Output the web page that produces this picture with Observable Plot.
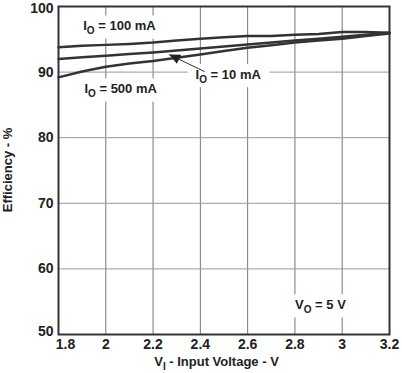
<!DOCTYPE html>
<html>
<head>
<meta charset="utf-8">
<script src="https://cdn.jsdelivr.net/npm/d3@7"></script>
<script src="https://cdn.jsdelivr.net/npm/@observablehq/plot@0.6"></script>
<style>
  html, body { margin: 0; padding: 0; background: #fff; }
  svg { font-family: "Liberation Sans", Arial, sans-serif; font-weight: bold; }
</style>
</head>
<body>
<div id="chart"></div>
<script>
// Input voltage (V)
const voltage = [1.8, 1.9, 2.0, 2.1, 2.2, 2.3, 2.4, 2.5, 2.6, 2.7, 2.8, 2.9, 3.0, 3.1, 3.2];
// Efficiency (%) per output current
const eff100mA = [93.8, 94.0, 94.15, 94.3, 94.5, 94.8, 95.1, 95.3, 95.5, 95.5, 95.7, 95.8, 96.1, 96.1, 96.0];
const eff10mA  = [92.0, 92.25, 92.5, 92.75, 93.0, 93.3, 93.6, 93.9, 94.2, 94.5, 94.8, 95.1, 95.4, 95.7, 96.0];
const eff500mA = [89.2, 90.1, 90.8, 91.3, 91.7, 92.2, 92.7, 93.2, 93.7, 94.1, 94.5, 94.8, 95.1, 95.5, 95.9];
const seriesNames = ["100 mA", "10 mA", "500 mA"];

const xTicks = [1.8, 2.0, 2.2, 2.4, 2.6, 2.8, 3.0, 3.2];
const xTickLabels = ["1.8", "2", "2.2", "2.4", "2.6", "2.8", "3", "3.2"];
const yTicks = [50, 60, 70, 80, 90, 100];

// Annotations
const annotations = [
  {main: "I", sub: "O", rest: " = 100 mA", x: 2.06, y: 96.8},
  {main: "I", sub: "O", rest: " = 500 mA", x: 2.065, y: 87.2},
  {main: "I", sub: "O", rest: " = 10 mA", x: 2.52, y: 89.4},
  {main: "V", sub: "O", rest: " = 5 V", x: 2.91, y: 54.3}
];
const arrowFrom = {x: 2.42, y: 90.0};
const arrowTo = {x: 2.27, y: 92.6};

const data = [];
voltage.forEach((v, i) => {
  data.push({v, e: eff100mA[i], s: seriesNames[0]});
  data.push({v, e: eff10mA[i], s: seriesNames[1]});
  data.push({v, e: eff500mA[i], s: seriesNames[2]});
});

const W = 402, H = 373;
const plot = Plot.plot({
  width: W,
  height: H,
  marginLeft: 58,
  marginRight: 13,
  marginTop: 6,
  marginBottom: 39,
  style: {fontFamily: "Liberation Sans, Arial, sans-serif", fontSize: "13px", fontWeight: "bold", color: "#222"},
  x: {domain: [1.8, 3.2], label: null},
  y: {domain: [50, 100], label: null},
  marks: [
    Plot.gridX(xTicks.slice(1, -1), {stroke: "#777", strokeOpacity: 1, strokeWidth: 1}),
    Plot.gridY(yTicks.slice(1, -1), {stroke: "#999", strokeOpacity: 1, strokeWidth: 1}),
    Plot.axisX(xTicks.slice(0, 1), {tickSize: 0, tickPadding: 5, tickFormat: (d) => xTickLabels[xTicks.indexOf(d)], dx: 7, fontSize: 14, fill: "#222"}),
    Plot.axisX(xTicks.slice(1), {tickSize: 0, tickPadding: 5, tickFormat: (d) => xTickLabels[xTicks.indexOf(d)], fontSize: 14, fill: "#222"}),
    Plot.axisY(yTicks.slice(-1), {tickSize: 0, tickPadding: 5, dy: 2, fontSize: 14, fill: "#222"}),
    Plot.axisY(yTicks.slice(1, -1), {tickSize: 0, tickPadding: 5, fontSize: 14, fill: "#222"}),
    Plot.axisY(yTicks.slice(0, 1), {tickSize: 0, tickPadding: 5, dy: -3, fontSize: 14, fill: "#222"}),
    Plot.line(data, {x: "v", y: "e", z: "s", stroke: "#333", strokeWidth: 2.5}),
    Plot.frame({stroke: "#333", strokeWidth: 2})
  ]
});
document.getElementById("chart").appendChild(plot);

const svg = d3.select(plot);
const xs = plot.scale("x"), ys = plot.scale("y");

// Annotation boxes + text
const g = svg.append("g");
annotations.forEach((a) => {
  const t = g.append("text")
    .attr("x", xs.apply(a.x)).attr("y", ys.apply(a.y))
    .attr("text-anchor", "middle").attr("dominant-baseline", "middle")
    .attr("font-size", 13).attr("fill", "#222");
  t.append("tspan").text(a.main);
  t.append("tspan").text(a.sub).attr("font-size", 10).attr("dy", 4);
  t.append("tspan").text(a.rest).attr("dy", -4);
  const bb = t.node().getBBox();
  g.insert("rect", () => t.node())
    .attr("x", bb.x - 8).attr("y", bb.y - 3).attr("width", bb.width + 16).attr("height", bb.height + 6)
    .attr("fill", "#fff");
});
svg.selectAll("g[aria-label='line'], g[aria-label='frame'], rect[aria-label='frame']").raise();

// Arrow for 10 mA
const ax1 = xs.apply(arrowFrom.x), ay1 = ys.apply(arrowFrom.y);
const ax2 = xs.apply(arrowTo.x), ay2 = ys.apply(arrowTo.y);
const ang = Math.atan2(ay2 - ay1, ax2 - ax1);
svg.append("line").attr("x1", ax1).attr("y1", ay1).attr("x2", ax2).attr("y2", ay2)
  .attr("stroke", "#333").attr("stroke-width", 1);
const L = 11, Wd = 5;
const bx = ax2 - L * Math.cos(ang), by = ay2 - L * Math.sin(ang);
svg.append("path")
  .attr("d", `M${ax2},${ay2}L${bx + Wd * Math.sin(ang)},${by - Wd * Math.cos(ang)}L${bx - Wd * Math.sin(ang)},${by + Wd * Math.cos(ang)}Z`)
  .attr("fill", "#222");

// Axis titles
const xt = svg.append("text")
  .attr("x", (xs.range[0] + xs.range[1]) / 2 - 7).attr("y", 366)
  .attr("text-anchor", "middle").attr("font-size", 13).attr("fill", "#222");
xt.append("tspan").text("V");
xt.append("tspan").text("I").attr("font-size", 10).attr("dy", 4);
xt.append("tspan").text(" - Input Voltage - V").attr("dy", -4);

svg.append("text")
  .attr("transform", `translate(12,${(ys.range[0] + ys.range[1]) / 2}) rotate(-90)`)
  .attr("text-anchor", "middle").attr("font-size", 13).attr("fill", "#222")
  .text("Efficiency - %");
</script>
</body>
</html>
